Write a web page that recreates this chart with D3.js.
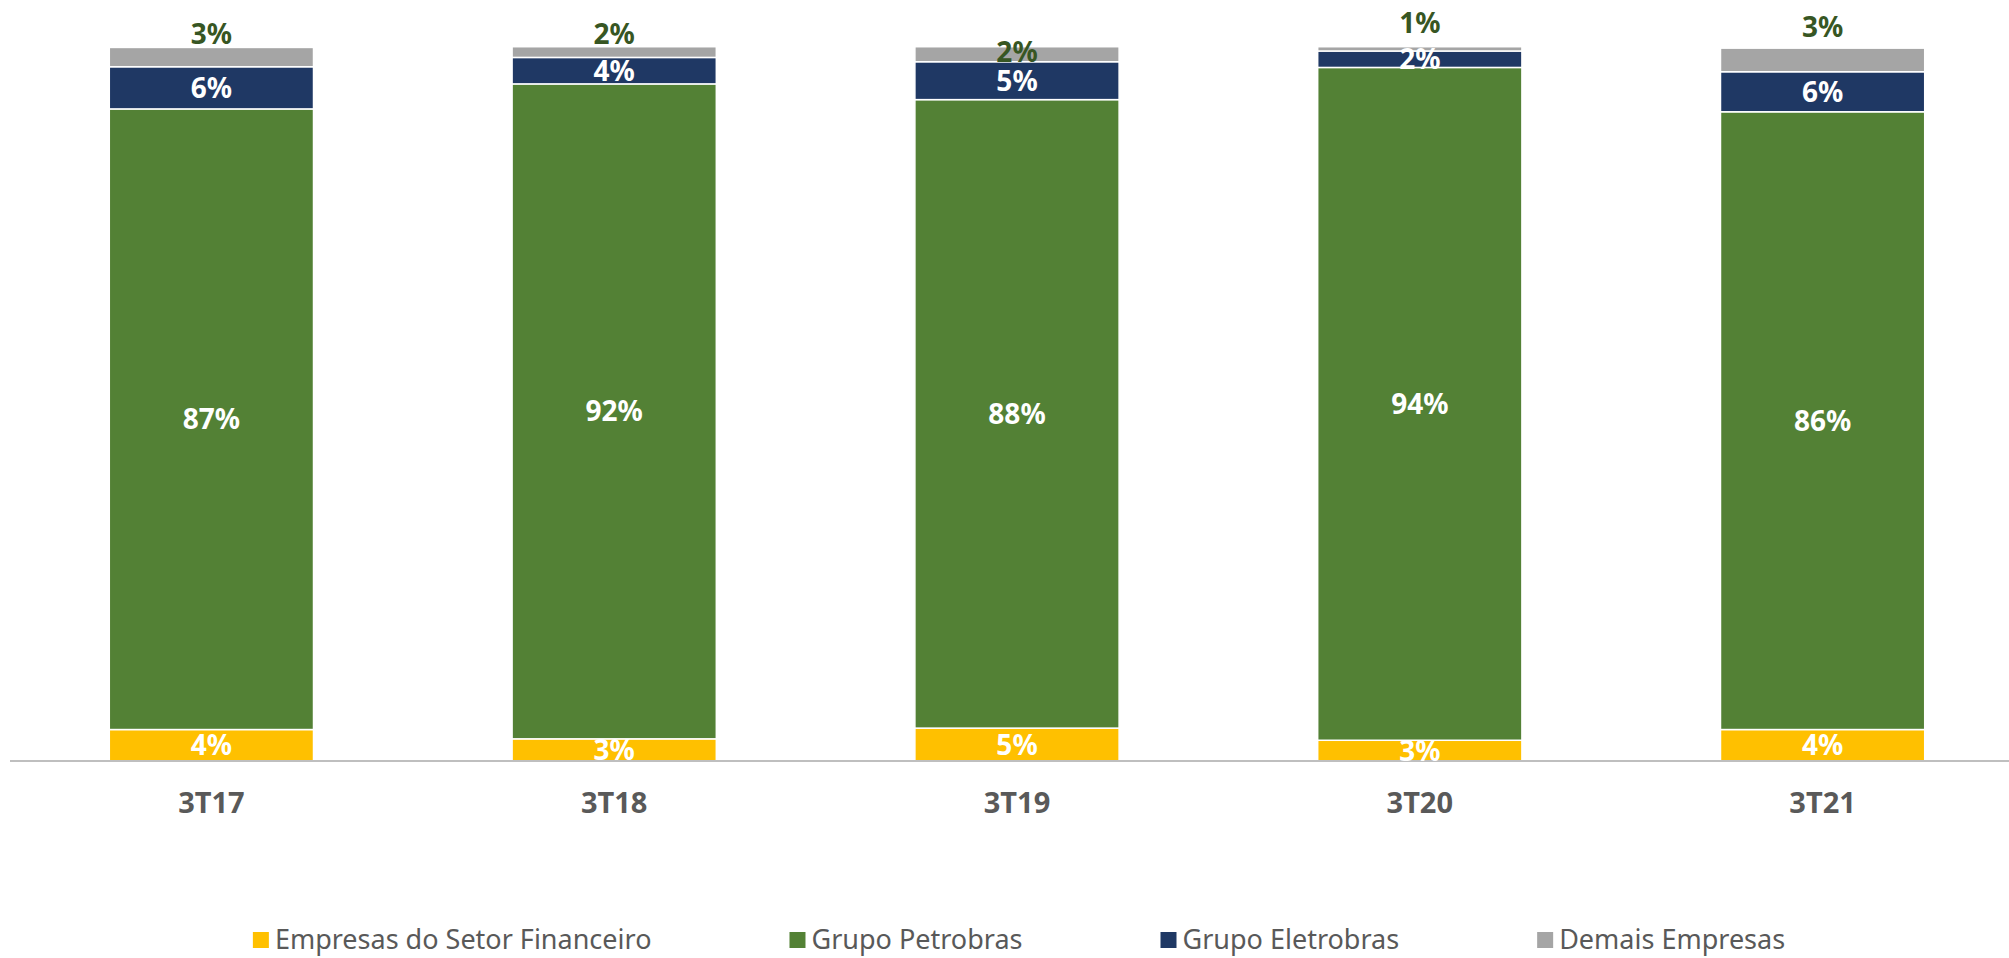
<!DOCTYPE html>
<html>
<head>
<meta charset="utf-8">
<script src="https://cdn.jsdelivr.net/npm/d3@7"></script>
<style>
  html, body { margin: 0; padding: 0; background: #fff; }
  svg { display: block; font-family: "Noto Sans", sans-serif; }
</style>
</head>
<body>
<svg id="chart" width="2009" height="958"></svg>
<script>
// quarters and share of each group (%)
const quarters = ['3T17', '3T18', '3T19', '3T20', '3T21'];
const seriesNames = ['Empresas do Setor Financeiro', 'Grupo Petrobras', 'Grupo Eletrobras', 'Demais Empresas'];
const financeiro = [4.4, 3.1, 4.6, 2.9, 4.4];
const petrobras = [86.8, 91.6, 87.9, 94.1, 86.4];
const eletrobras = [5.9, 3.7, 5.3, 2.3, 5.6];
const demais = [2.7, 1.5, 2.1, 0.6, 3.3];

const colors = ['#FFC000', '#538135', '#1F3864', '#A5A5A5'];
// manual nudge of the "Demais" labels from the top of the stack (px)
const demaisLabelNudge = [-12, -12, 6, -23, -19];

const svg = d3.select('#chart');
const axisY = 761, topY = 46;

const rows = quarters.map((q, i) => ({
  q,
  s0: financeiro[i], s1: petrobras[i], s2: eletrobras[i], s3: demais[i]
}));

const stack = d3.stack().keys(['s0', 's1', 's2', 's3']);
const layers = stack(rows);

const x = d3.scaleBand()
  .domain(quarters)
  .range([10, 2024])
  .paddingInner(0.493)
  .paddingOuter(0.2465);

const y = d3.scaleLinear().domain([0, 100]).range([axisY, topY]);

// bars
const layerG = svg.append('g')
  .selectAll('g')
  .data(layers)
  .join('g')
  .attr('fill', (d, i) => colors[i]);

layerG.selectAll('rect')
  .data(d => d)
  .join('rect')
  .attr('x', d => x(d.data.q))
  .attr('width', x.bandwidth())
  .attr('y', d => y(d[1]))
  .attr('height', d => y(d[0]) - y(d[1]))
  .attr('stroke', '#fff')
  .attr('stroke-width', 1.5);

// axis line
svg.append('line')
  .attr('x1', 10).attr('x2', 2009)
  .attr('y1', axisY).attr('y2', axisY)
  .attr('stroke', '#BFBFBF')
  .attr('stroke-width', 2);

// segment labels
layers.forEach((layer, li) => {
  svg.append('g')
    .selectAll('text')
    .data(layer)
    .join('text')
    .attr('x', d => x(d.data.q) + x.bandwidth() / 2)
    .attr('y', (d, i) => li === 3 ? y(100) + demaisLabelNudge[i] : (y(d[0]) + y(d[1])) / 2)
    .attr('dy', '0.36em')
    .attr('text-anchor', 'middle')
    .attr('font-size', 28)
    .attr('font-weight', 'bold')
    .attr('fill', li === 3 ? '#375623' : '#fff')
    .text(d => Math.round(d[1] - d[0]) + '%');
});

// category labels
svg.append('g')
  .selectAll('text')
  .data(quarters)
  .join('text')
  .attr('x', d => x(d) + x.bandwidth() / 2)
  .attr('y', 803)
  .attr('dy', '0.36em')
  .attr('text-anchor', 'middle')
  .attr('font-size', 29)
  .attr('font-weight', 'bold')
  .attr('fill', '#595959')
  .text(d => d);

// legend
const legend = svg.append('g');
const items = legend.selectAll('g')
  .data(seriesNames)
  .join('g');

items.append('rect')
  .attr('width', 16).attr('height', 16)
  .attr('y', 932)
  .attr('fill', (d, i) => colors[i]);

items.append('text')
  .attr('x', 22)
  .attr('y', 940)
  .attr('dy', '0.35em')
  .attr('font-size', 27)
  .attr('fill', '#595959')
  .text(d => d);

const gap = 138;
let widths = [];
items.each(function () {
  widths.push(22 + d3.select(this).select('text').node().getComputedTextLength());
});
const total = d3.sum(widths) + gap * (widths.length - 1);
let cx = 1019 - total / 2;
items.attr('transform', (d, i) => {
  const t = `translate(${cx},0)`;
  cx += widths[i] + gap;
  return t;
});
</script>
</body>
</html>
